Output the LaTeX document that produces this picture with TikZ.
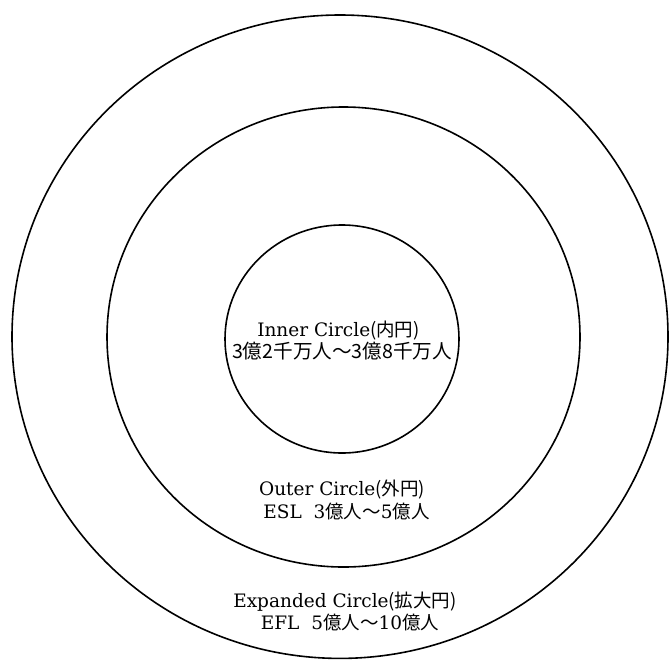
\documentclass[tikz,border=0pt]{standalone}
\usepackage{fontspec}
\setmainfont{DejaVu Serif}
\newfontfamily\cjk{Noto Sans CJK JP}
\begin{document}
\begin{tikzpicture}[x=1pt,y=-1pt]
\tikzset{
  ring/.style={line width=1.6pt},
  lbl/.style={font=\fontsize{18.5}{22}\selectfont, inner sep=0pt, anchor=base},
  lblbig/.style={lbl, font=\fontsize{19.6}{22}\selectfont}
}
\useasboundingbox[fill=white] (0,0) rectangle (669,659);
\draw[ring] (340,336.7) ellipse [x radius=328, y radius=321.7];
\draw[ring] (343.5,337) ellipse [x radius=236.5, y radius=230];
\draw[ring] (342,339) ellipse [x radius=117, y radius=114];
\node[lbl] (in1) at (338.5,336) {Inner Circle{\cjk (内円)}};
\node[lblbig] (in2) at (342,358) {\cjk 3億2千万人～3億8千万人};
\node[lbl] (out1) at (342,495) {Outer Circle{\cjk (外円)}};
\node[lbl] (out2) at (346.5,518) {ESL\ \ 3{\cjk 億人～}5{\cjk 億人}};
\node[lbl] (ex1) at (345,607) {Expanded Circle{\cjk (拡大円)}};
\node[lbl] (ex2) at (350,629) {EFL\ \ 5{\cjk 億人～}10{\cjk 億人}};
\end{tikzpicture}
\end{document}
